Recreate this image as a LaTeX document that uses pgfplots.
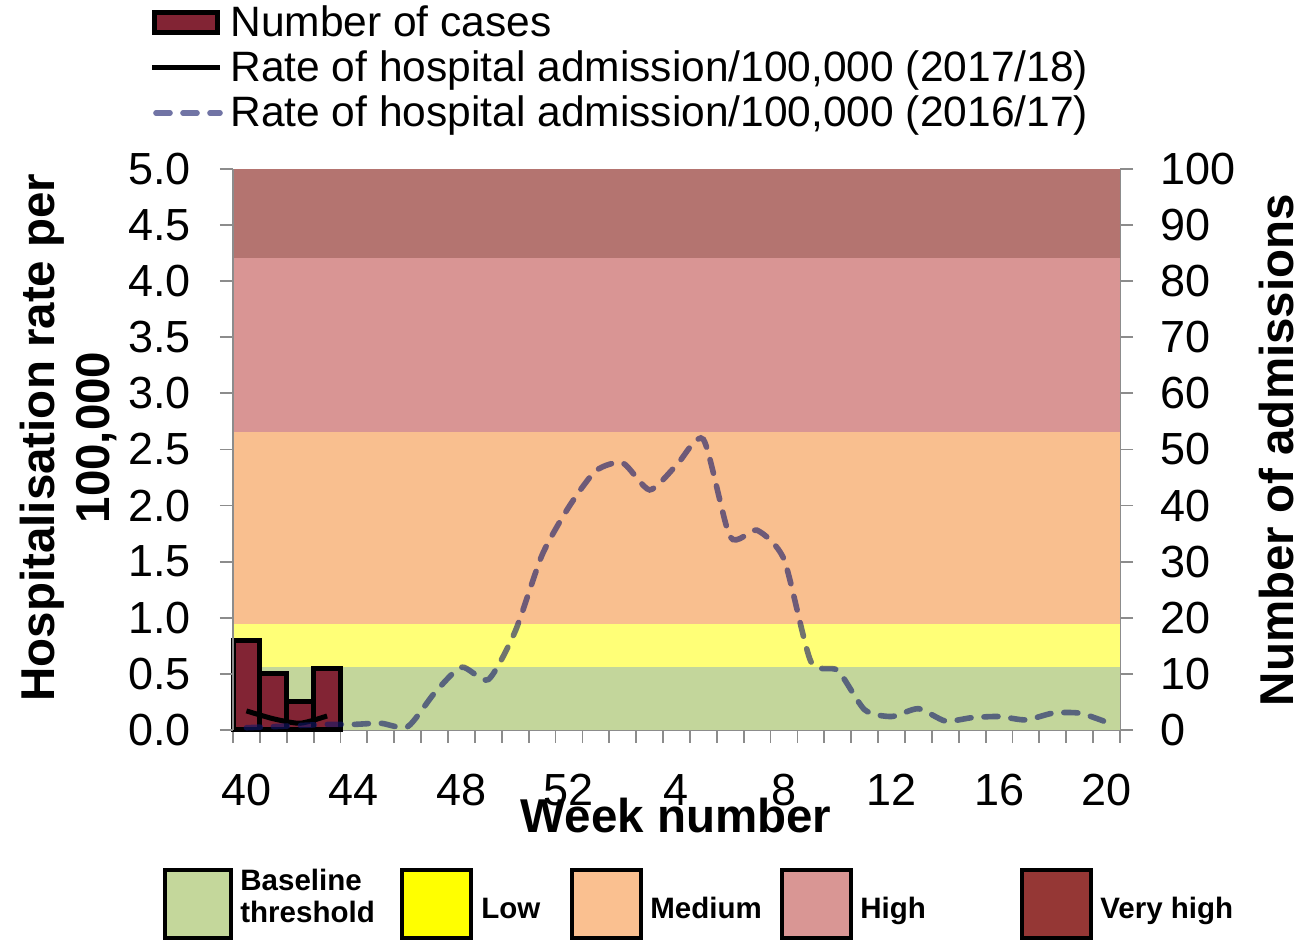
\documentclass[border=0pt]{standalone}
\usepackage{pgfplots}
\pgfplotsset{compat=1.18}
\usepackage{fontspec}
\setmainfont{Liberation Sans}
\definecolor{bandG}{HTML}{C3D69B}
\definecolor{bandY}{HTML}{FFFF77}
\definecolor{bandO}{HTML}{F9BF8F}
\definecolor{bandP}{HTML}{D99594}
\definecolor{bandR}{HTML}{B47470}
\definecolor{keyG}{HTML}{C4D79B}
\definecolor{keyY}{HTML}{FFFF00}
\definecolor{keyO}{HTML}{FAC090}
\definecolor{keyP}{HTML}{D99694}
\definecolor{keyR}{HTML}{953735}
\definecolor{barred}{HTML}{822434}
\definecolor{dashc}{RGB}{18,24,105}
\definecolor{axisgray}{HTML}{8C8C8C}
\newcommand\tickfont{\fontsize{22.5}{27}\selectfont}
\newcommand\titlefont{\bfseries\fontsize{23.75}{27.5}\selectfont}
\newcommand\legfont{\fontsize{21.25}{22.5}\selectfont}
\newcommand\keyfont{\bfseries\fontsize{14.75}{16}\selectfont}
\begin{document}
\begin{tikzpicture}
\useasboundingbox (0,0) rectangle (651.5pt,470.5pt);
\pgfplotsset{
  myaxis/.style={
    at={(116.5pt,105.5pt)}, anchor=south west,
    scale only axis, width=443.5pt, height=280.5pt,
    xmin=-0.5, xmax=32.5,
    tick align=outside,
    axis line style={draw=axisgray, line width=0.9pt},
    tick style={draw=axisgray, line width=0.9pt},
    major tick length=6.5pt,
    tick label style={font=\tickfont},
    /pgf/number format/assume math mode=true,
    clip=false,
  }
}
% ---- right axis: bands and number of cases ----
\begin{axis}[myaxis,
  ymin=0, ymax=100,
  axis x line*=bottom, axis y line*=right,
  ytick={0,10,...,100},
  yticklabel style={xshift=10pt},
  xtick={-0.5,0.5,...,32.5}, xticklabels={},
  extra x ticks={0,4,...,32},
  extra x tick labels={40,44,48,52,4,8,12,16,20},
  extra x tick style={major tick length=0pt},
  xticklabel style={yshift=-18.5pt},
  xlabel={Week number},
  ylabel={Number of admissions},
  every axis x label/.style={at={(rel axis cs:0.4994,-0.1836)}, anchor=base, font=\titlefont},
  every axis y label/.style={at={(rel axis cs:1.176,0.499)}, rotate=90, anchor=center, font=\titlefont},
]
\fill[bandG] (axis cs:-0.5,0) rectangle (axis cs:32.5,11.2);
\fill[bandY] (axis cs:-0.5,11.2) rectangle (axis cs:32.5,18.9);
\fill[bandO] (axis cs:-0.5,18.9) rectangle (axis cs:32.5,53.1);
\fill[bandP] (axis cs:-0.5,53.1) rectangle (axis cs:32.5,84.2);
\fill[bandR] (axis cs:-0.5,84.2) rectangle (axis cs:32.5,100);
\addplot[ybar, bar width=1, fill=barred, draw=black, line width=2.5pt]
  coordinates {(0,16) (1,10) (2,5) (3,11)};
\end{axis}
% ---- left axis: hospitalisation rates ----
\begin{axis}[myaxis,
  ymin=0, ymax=5,
  axis y line*=left, axis x line=none,
  xtick=\empty,
  ytick={0,0.5,...,5},
  yticklabel style={xshift=-11pt, /pgf/number format/fixed, /pgf/number format/fixed zerofill, /pgf/number format/precision=1},
  ylabel={Hospitalisation rate per\\100,000},
  every axis y label/.style={at={(rel axis cs:-0.1852,0.5214)}, rotate=90, anchor=center, align=center, font=\titlefont},
]
\addplot[black, line width=2.5pt, smooth, tension=0.4]
  coordinates {(0,0.17) (1,0.10) (2,0.06) (3,0.125)};
\addplot[dashc, draw opacity=0.6, line width=2.8pt, dash pattern=on 7pt off 6.5pt, line cap=round, smooth, tension=0.4]
  coordinates {
  (0,0.02) (1,0.03) (2,0.04) (3,0.05) (4,0.05) (5,0.06) (6,0.03) (7,0.33)
  (8,0.56) (9,0.45) (10,0.88) (11,1.56) (12,1.99) (13,2.31) (14,2.38) (15,2.14)
  (16,2.36) (17,2.59) (18,1.72) (19,1.78) (20,1.52) (21,0.61) (22,0.53) (23,0.18)
  (24,0.12) (25,0.19) (26,0.08) (27,0.11) (28,0.12) (29,0.09) (30,0.15) (31,0.15) (32,0.07)};
\end{axis}
% ---- top legend ----
\draw[black, line width=2.5pt, fill=barred] (77.25pt,454.25pt) rectangle (108.75pt,464.25pt);
\node[anchor=base west, inner sep=0pt, font=\legfont] at (115pt,452pt) {Number of cases};
\draw[black, line width=2.5pt] (76pt,436.5pt) -- (110pt,436.5pt);
\node[anchor=base west, inner sep=0pt, font=\legfont] at (115pt,429.5pt) {Rate of hospital admission/100,000 (2017/18)};
\draw[dashc, draw opacity=0.6, line width=2.8pt, dash pattern=on 7pt off 6.5pt, line cap=round] (78pt,414pt) -- (110pt,414pt);
\node[anchor=base west, inner sep=0pt, font=\legfont] at (115pt,407pt) {Rate of hospital admission/100,000 (2016/17)};
% ---- bottom key ----
\draw[black, line width=2pt, fill=keyG] (82.5pt,1.5pt) rectangle (115.5pt,35.5pt);
\draw[black, line width=2pt, fill=keyY] (201pt,1.5pt) rectangle (235.5pt,35.5pt);
\draw[black, line width=2pt, fill=keyO] (286pt,1.5pt) rectangle (320.5pt,35.5pt);
\draw[black, line width=2pt, fill=keyP] (391pt,1.5pt) rectangle (425.5pt,35.5pt);
\draw[black, line width=2pt, fill=keyR] (511pt,1.5pt) rectangle (545.5pt,35.5pt);
\node[anchor=base west, inner sep=0pt, font=\keyfont] at (120pt,25.25pt) {Baseline};
\node[anchor=base west, inner sep=0pt, font=\keyfont] at (120pt,9.25pt) {threshold};
\node[anchor=base west, inner sep=0pt, font=\keyfont] at (240.5pt,11.25pt) {Low};
\node[anchor=base west, inner sep=0pt, font=\keyfont] at (325pt,11.25pt) {Medium};
\node[anchor=base west, inner sep=0pt, font=\keyfont] at (430pt,11.25pt) {High};
\node[anchor=base west, inner sep=0pt, font=\keyfont] at (550pt,11.25pt) {Very high};
\end{tikzpicture}
\end{document}
